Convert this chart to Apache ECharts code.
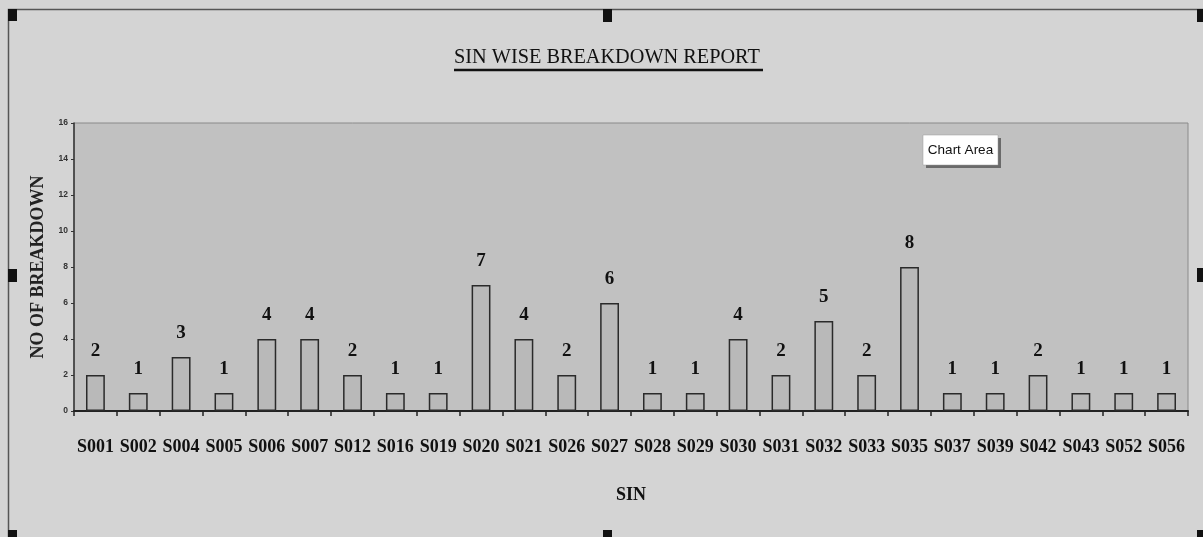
<!DOCTYPE html>
<html>
<head>
<meta charset="utf-8">
<script src="https://cdn.jsdelivr.net/npm/echarts@6/dist/echarts.min.js"></script>
<style>
html,body{margin:0;padding:0;background:#d4d4d4;}
#chart{width:1203px;height:537px;}
</style>
</head>
<body>
<div id="chart"></div>
<script>
const categories = ['S001','S002','S004','S005','S006','S007','S012','S016','S019','S020','S021','S026','S027','S028','S029','S030','S031','S032','S033','S035','S037','S039','S042','S043','S052','S056'];
const breakdowns = [2,1,3,1,4,4,2,1,1,7,4,2,6,1,1,4,2,5,2,8,1,1,2,1,1,1];
const yTicks = { min: 0, max: 16, interval: 2 };
const titleText = 'SIN WISE BREAKDOWN REPORT';
const xName = 'SIN';
const yName = 'NO OF BREAKDOWN';

const serif = '"Liberation Serif", "Times New Roman", serif';
const chart = echarts.init(document.getElementById('chart'), null, {renderer: 'canvas'});

function handle(x, y, w, h) {
  return {type: 'rect', shape: {x: x, y: y, width: w, height: h}, style: {fill: '#111'}, z: 100};
}

chart.setOption({
  backgroundColor: '#d4d4d4',
  animation: false,
  title: {
    text: titleText,
    left: 454,
    top: 48,
    padding: 0,
    textStyle: {fontFamily: serif, fontSize: 20.3, fontWeight: 'normal', color: '#111', textShadowColor: '#111', textShadowBlur: 0, textShadowOffsetX: 0.6}
  },
  grid: {
    left: 74, right: 15, top: 123, bottom: 126,
    show: true, backgroundColor: '#c1c1c1', borderColor: '#8a8a8a', borderWidth: 1,
    containLabel: false
  },
  xAxis: {
    type: 'category',
    data: categories,
    name: xName,
    nameLocation: 'middle',
    nameGap: 75,
    nameTextStyle: {fontFamily: serif, fontSize: 18, fontWeight: 'bold', color: '#111'},
    axisLine: {lineStyle: {color: '#222', width: 2}},
    axisTick: {show: true, alignWithLabel: false, length: 5, lineStyle: {color: '#222', width: 1.5}},
    axisLabel: {interval: 0, margin: 27, fontFamily: serif, fontSize: 18, fontWeight: 'bold', color: '#111'}
  },
  yAxis: {
    type: 'value',
    min: yTicks.min, max: yTicks.max, interval: yTicks.interval,
    name: yName,
    nameLocation: 'middle',
    nameGap: 26,
    nameRotate: 90,
    nameTextStyle: {fontFamily: serif, fontSize: 18, fontWeight: 'bold', color: '#222'},
    splitLine: {show: false},
    axisLine: {show: true, lineStyle: {color: '#333', width: 1.5}},
    axisTick: {show: true, length: 3, lineStyle: {color: '#333'}},
    axisLabel: {margin: 6, fontFamily: '"Liberation Sans", Arial, sans-serif', fontSize: 8.5, fontWeight: 'bold', color: '#333'}
  },
  series: [{
    type: 'bar',
    data: breakdowns,
    barWidth: '44%',
    itemStyle: {color: '#b9b9b9', borderColor: '#2a2a2a', borderWidth: 1.5},
    label: {
      show: true, position: 'top', distance: 14,
      fontFamily: serif, fontSize: 19, fontWeight: 'bold', color: '#111'
    }
  }],
  graphic: [
    {type: 'rect', shape: {x: 8.5, y: 9.5, width: 1200, height: 600}, style: {fill: 'none', stroke: '#555', lineWidth: 1.5}, z: 90},
    {type: 'line', shape: {x1: 454, y1: 70, x2: 763, y2: 70}, style: {stroke: '#111', lineWidth: 2.5}, z: 95},
    handle(8, 9, 9, 12), handle(603, 9, 9, 13), handle(1197, 9, 6, 13),
    handle(8, 269, 9, 13), handle(1197, 268, 6, 14),
    handle(8, 530, 9, 7), handle(603, 530, 9, 7), handle(1197, 530, 6, 7),
    {type: 'rect', shape: {x: 926, y: 138, width: 75, height: 30}, style: {fill: '#6a6a6a'}, z: 96},
    {type: 'rect', shape: {x: 923, y: 135, width: 75, height: 30}, style: {fill: '#ffffff', stroke: '#999', lineWidth: 0.5}, z: 97},
    {type: 'text', x: 960.5, y: 150, style: {text: 'Chart Area', fill: '#111', font: '13.5px "Liberation Sans", Arial, sans-serif', align: 'center', verticalAlign: 'middle'}, z: 98}
  ]
});
</script>
</body>
</html>
